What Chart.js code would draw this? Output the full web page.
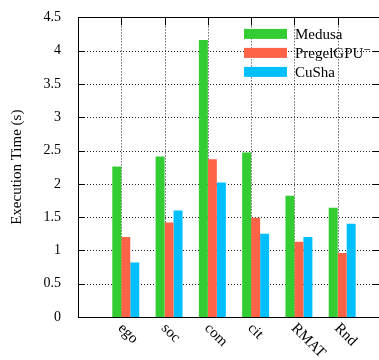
<!DOCTYPE html>
<html>
<head>
<meta charset="utf-8">
<script src="https://cdn.jsdelivr.net/npm/chart.js@4"></script>
<style>
    html, body { margin: 0; padding: 0; background: #fff; overflow: hidden; }
    #wrap { position: relative; width: 384px; height: 360px; }
</style>
</head>
<body>
<div id="wrap"><canvas id="timeChart"></canvas></div>
<script>
const categories = ["ego", "soc", "com", "cit", "RMAT", "Rnd"];
const medusa = [2.26, 2.41, 4.16, 2.47, 1.82, 1.64];
const pregelGPU = [1.20, 1.42, 2.37, 1.49, 1.13, 0.96];
const cuSha = [0.82, 1.60, 2.02, 1.25, 1.20, 1.40];
const yTicks = [0, 0.5, 1, 1.5, 2, 2.5, 3, 3.5, 4, 4.5];

document.addEventListener("DOMContentLoaded", function() {
    const serif = "'Liberation Serif', 'DejaVu Serif', serif";

    // pad with an empty slot on each side so ticks sit like gnuplot's
    const labels = [""].concat(categories, [""]);
    const pad = (arr) => [null].concat(arr, [null]);

    // dotted grid behind the bars
    const dottedGrid = {
        id: "dottedGrid",
        beforeDatasetsDraw(chart) {
            const ctx = chart.ctx;
            const area = chart.chartArea;
            const xs = chart.scales.x;
            const ys = chart.scales.y;
            ctx.save();
            ctx.strokeStyle = "#222";
            ctx.lineWidth = 1;
            ctx.setLineDash([1, 2]);
            ctx.beginPath();
            yTicks.slice(1, -1).forEach((v) => {
                const y = Math.round(ys.getPixelForValue(v)) + 0.5;
                ctx.moveTo(area.left, y); ctx.lineTo(area.right, y);
            });
            categories.forEach((c, i) => {
                const x = Math.round(xs.getPixelForValue(i + 1)) + 0.5;
                ctx.moveTo(x, area.top); ctx.lineTo(x, area.bottom);
            });
            ctx.stroke();
            ctx.restore();
        }
    };

    // draws frame, inward ticks, rotated x labels and the legend box
    const decorations = {
        id: "decorations",
        afterDatasetsDraw(chart) {
            const ctx = chart.ctx;
            const area = chart.chartArea;
            const xs = chart.scales.x;
            const ys = chart.scales.y;
            ctx.save();
            ctx.strokeStyle = "#000";
            ctx.lineWidth = 1;
            ctx.setLineDash([]);
            ctx.strokeRect(Math.round(area.left) + 0.5, Math.round(area.top) + 0.5,
                Math.round(area.right - area.left), Math.round(area.bottom - area.top));

            ctx.beginPath();
            yTicks.forEach((v) => {
                const y = Math.round(ys.getPixelForValue(v)) + 0.5;
                ctx.moveTo(area.left, y); ctx.lineTo(area.left + 7, y);
                ctx.moveTo(area.right, y); ctx.lineTo(area.right - 8, y);
            });
            categories.forEach((c, i) => {
                const x = Math.round(xs.getPixelForValue(i + 1)) + 0.5;
                ctx.moveTo(x, area.top); ctx.lineTo(x, area.top + 8);
            });
            ctx.stroke();

            ctx.fillStyle = "#000";
            ctx.font = "15px " + serif;
            ctx.textAlign = "left";
            ctx.textBaseline = "middle";
            categories.forEach((c, i) => {
                const x = xs.getPixelForValue(i + 1);
                ctx.save();
                ctx.translate(x - 1, area.bottom + 9);
                ctx.rotate(Math.PI / 4);
                ctx.fillText(c, 0, 0);
                ctx.restore();
            });

            // legend inside the plot, top right
            const shown = chart.data.datasets.filter((d) => d.label);
            shown.forEach((d, i) => {
                const cy = area.top + 16.5 + i * 19;
                ctx.fillStyle = d.backgroundColor;
                ctx.fillRect(244, cy - 5, 43, 10);
                ctx.fillStyle = "#000";
                ctx.fillText(d.label, 295, cy + 1);
            });
            ctx.restore();
        }
    };

    const ctx = document.getElementById("timeChart").getContext("2d");
    const timeChart = new Chart(ctx, {
        type: "bar",
        data: {
            labels: labels,
            datasets: [
                { label: "", data: labels.map(() => null), backgroundColor: "rgba(0,0,0,0)" },
                { label: "Medusa", data: pad(medusa), backgroundColor: "#33cc33" },
                { label: "PregelGPU\u207B", data: pad(pregelGPU), backgroundColor: "#ff6347" },
                { label: "CuSha", data: pad(cuSha), backgroundColor: "#00bfff" }
            ]
        },
        options: {
            responsive: true,
            maintainAspectRatio: false,
            animation: false,
            layout: { padding: { top: 15, right: 3, left: 0, bottom: 0 } },
            datasets: { bar: { categoryPercentage: 0.83, barPercentage: 1.0 } },
            plugins: {
                legend: { display: false },
                tooltip: { enabled: false }
            },
            scales: {
                x: {
                    offset: false,
                    grid: { display: false },
                    border: { display: false },
                    ticks: { display: false },
                    afterFit: (s) => { s.height = 43; }
                },
                y: {
                    min: 0,
                    max: 4.5,
                    afterBuildTicks: (s) => { s.ticks = yTicks.map((v) => ({ value: v })); },
                    grid: { display: false },
                    border: { display: false },
                    ticks: {
                        color: "#000",
                        padding: 9,
                        font: { family: serif, size: 14 },
                        callback: (v) => String(v)
                    },
                    title: {
                        display: true,
                        text: "Execution Time (s)",
                        color: "#000",
                        padding: { top: 8, bottom: 0 },
                        font: { family: serif, size: 15 }
                    },
                    afterFit: (s) => { s.width = 78; }
                }
            }
        },
        plugins: [dottedGrid, decorations]
    });
});
</script>
</body>
</html>
